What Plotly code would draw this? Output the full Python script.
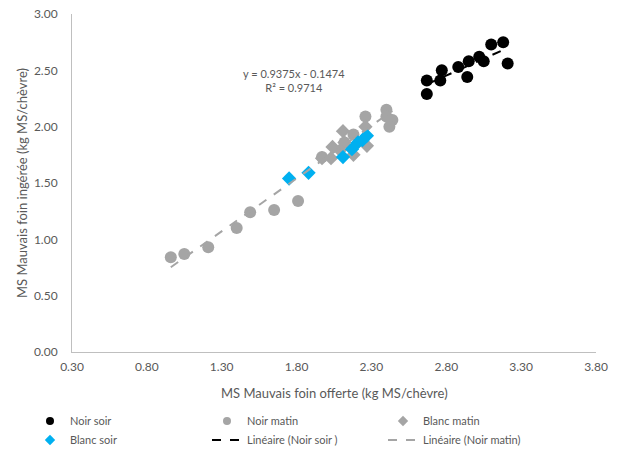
import numpy as np
import plotly.graph_objects as go

# Noir soir (black circles)
noir_soir_x = [2.67, 2.67, 2.77, 2.76, 2.88, 2.94, 2.95, 3.02, 3.05, 3.10, 3.18, 3.21]
noir_soir_y = [2.41, 2.29, 2.50, 2.41, 2.53, 2.44, 2.58, 2.62, 2.58, 2.73, 2.75, 2.56]

# Noir matin (gray circles)
noir_matin_x = [0.96, 1.05, 1.21, 1.40, 1.49, 1.65, 1.81, 2.26, 2.40, 2.40, 2.44, 2.42, 2.18, 2.12, 1.97]
noir_matin_y = [0.84, 0.87, 0.93, 1.10, 1.24, 1.26, 1.34, 2.09, 2.15, 2.09, 2.06, 2.00, 1.93, 1.86, 1.73]

# Blanc matin (gray diamonds)
blanc_matin_x = [2.11, 2.26, 2.04, 2.12, 2.27, 2.18, 1.97, 2.03, 2.09]
blanc_matin_y = [1.96, 2.00, 1.82, 1.86, 1.83, 1.75, 1.72, 1.72, 1.79]

# Blanc soir (blue diamonds)
blanc_soir_x = [1.75, 1.88, 2.11, 2.17, 2.21, 2.24, 2.27]
blanc_soir_y = [1.54, 1.59, 1.73, 1.80, 1.86, 1.88, 1.92]

# Trend line equation shown for Noir matin
eq_text = "y = 0.9375x - 0.1474<br>R² = 0.9714"
x_title = "MS Mauvais foin offerte (kg MS/chèvre)"
y_title = "MS Mauvais foin ingérée (kg MS/chèvre)"

x_ticks = [0.3, 0.8, 1.3, 1.8, 2.3, 2.8, 3.3, 3.8]
y_ticks = [0.0, 0.5, 1.0, 1.5, 2.0, 2.5, 3.0]

FONT = "Lato"
GREY = "#595959"
BLACK = "#000000"
LGREY = "#A5A5A5"
BLUE = "#00B0F0"

W, H = 629, 450

fig = go.Figure()

# data traces (legend drawn separately with smaller symbols)
fig.add_trace(go.Scatter(x=noir_soir_x, y=noir_soir_y, mode="markers", showlegend=False,
                         marker=dict(symbol="circle", size=12, color=BLACK)))
fig.add_trace(go.Scatter(x=noir_matin_x, y=noir_matin_y, mode="markers", showlegend=False,
                         marker=dict(symbol="circle", size=12, color=LGREY)))
fig.add_trace(go.Scatter(x=blanc_matin_x, y=blanc_matin_y, mode="markers", showlegend=False,
                         marker=dict(symbol="diamond", size=11, color=LGREY)))
fig.add_trace(go.Scatter(x=blanc_soir_x, y=blanc_soir_y, mode="markers", showlegend=False,
                         marker=dict(symbol="diamond", size=11, color=BLUE)))

# Trend lines
ns = np.polyfit(noir_soir_x, noir_soir_y, 1)
nsx = np.array([min(noir_soir_x), max(noir_soir_x)])
fig.add_trace(go.Scatter(x=nsx, y=np.polyval(ns, nsx), mode="lines", showlegend=False,
                         line=dict(color=BLACK, width=2, dash="dash")))
nmx = np.array([min(noir_matin_x), max(noir_matin_x)])
fig.add_trace(go.Scatter(x=nmx, y=0.9375 * nmx - 0.1474, mode="lines", showlegend=False,
                         line=dict(color=LGREY, width=2, dash="dash")))

# legend entries
def leg_marker(name, symbol, color, size, legend):
    fig.add_trace(go.Scatter(x=[None], y=[None], mode="markers", name=name, legend=legend,
                             marker=dict(symbol=symbol, size=size, color=color)))

def leg_line(name, color, legend):
    fig.add_trace(go.Scatter(x=[None], y=[None], mode="lines", name=name, legend=legend,
                             line=dict(color=color, width=2, dash="dash")))

leg_marker("Noir soir", "circle", BLACK, 8, "legend")
leg_marker("Blanc soir", "diamond", BLUE, 8, "legend")
leg_marker("Noir matin", "circle", LGREY, 8, "legend2")
leg_line("Linéaire (Noir soir )", BLACK, "legend2")
leg_marker("Blanc matin", "diamond", LGREY, 8, "legend3")
leg_line("Linéaire (Noir matin)", LGREY, "legend3")

fig.add_annotation(x=1.78, y=2.41, xref="x", yref="y", text=eq_text, showarrow=False,
                   font=dict(family=FONT, size=11, color=GREY), align="center")
fig.add_annotation(x=0.5, y=-0.121, xref="paper", yref="paper", text=x_title, showarrow=False,
                   xanchor="center", yanchor="middle", font=dict(family=FONT, size=13, color=GREY))
fig.add_annotation(x=-0.0954, y=0.5, xref="paper", yref="paper", text=y_title, showarrow=False,
                   textangle=-90, xanchor="center", yanchor="middle",
                   font=dict(family=FONT, size=13, color=GREY))

def legend_at(px):
    return dict(orientation="v", xref="container", yref="container", x=px / W,
                y=(H - 406.5) / H, xanchor="left", yanchor="top", tracegroupgap=0, itemwidth=30,
                font=dict(family=FONT, size=11, color=GREY), bgcolor="rgba(0,0,0,0)")

fig.update_layout(
    width=W, height=H,
    margin=dict(l=72, r=33, t=14, b=98, autoexpand=False),
    paper_bgcolor="white", plot_bgcolor="white",
    font=dict(family=FONT, size=12, color=GREY),
    showlegend=True,
    legend=legend_at(30),
    legend2=legend_at(207),
    legend3=legend_at(383),
)
fig.update_xaxes(range=[0.3, 3.8], tickvals=x_ticks, tickformat=".2f", showgrid=False, zeroline=False,
                 showline=True, linecolor="#BFBFBF", linewidth=1, ticklabeloverflow="allow",
                 ticks="outside", ticklen=4, tickcolor="rgba(0,0,0,0)")
fig.update_yaxes(range=[0, 3], tickvals=y_ticks, tickformat=".2f", showgrid=False, zeroline=False,
                 showline=True, linecolor="#BFBFBF", linewidth=1, ticklabeloverflow="allow",
                 ticks="outside", ticklen=11, tickcolor="rgba(0,0,0,0)")

fig.write_html("out.html", config={"displayModeBar": False},
               post_script="document.body.style.margin='0';")
